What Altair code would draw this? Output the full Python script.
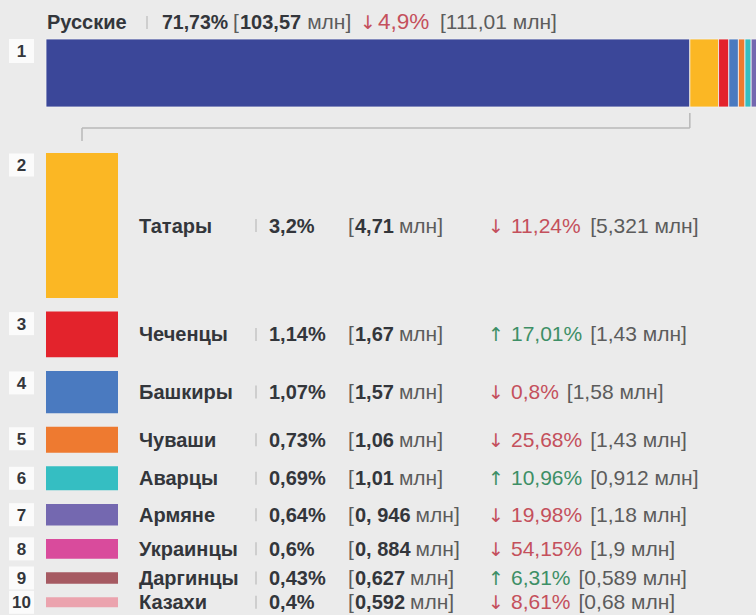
import altair as alt
import pandas as pd

# ---------------- data ----------------
names = ["Русские", "Татары", "Чеченцы", "Башкиры", "Чуваши", "Аварцы",
         "Армяне", "Украинцы", "Даргинцы", "Казахи"]
share_pct = [71.73, 3.2, 1.14, 1.07, 0.73, 0.69, 0.64, 0.6, 0.43, 0.4]
share_text = ["71,73%", "3,2%", "1,14%", "1,07%", "0,73%", "0,69%", "0,64%",
              "0,6%", "0,43%", "0,4%"]
pop_text = ["103,57", "4,71", "1,67", "1,57", "1,06", "1,01", "0, 946",
            "0, 884", "0,627", "0,592"]
change_pct = [-4.9, -11.24, 17.01, -0.8, -25.68, 10.96, -19.98, -54.15, 6.31, -8.61]
change_text = ["4,9%", "11,24%", "17,01%", "0,8%", "25,68%", "10,96%", "19,98%",
               "54,15%", "6,31%", "8,61%"]
prev_text = ["111,01", "5,321", "1,43", "1,58", "1,43", "0,912", "1,18", "1,9",
             "0,589", "0,68"]
colors = ["#3b4799", "#fbb724", "#e3232c", "#4a7ac0", "#ee7a30", "#35bec2",
          "#7468b0", "#d94b9c", "#a65a62", "#eba3ae"]

# ---------------- styles ----------------
BG = "#ebebeb"
TXT = "#33363b"
GRAY = "#5c5c5c"
RED = "#c4505c"
GREEN = "#3d8f66"
SEP = "#c4c4c4"
SANS = "Liberation Sans, Arial, Helvetica, sans-serif"
ARROWS = "DejaVu Sans, sans-serif"

ADV = {**{d: 0.556 for d in "0123456789"}, ",": 0.278, " ": 0.278, "%": 0.889}


def text_w(s, size):
    return sum(ADV.get(c, 0.556) for c in s) * size


df = pd.DataFrame({
    "name": names, "share": share_pct, "share_t": share_text, "pop": pop_text,
    "chg": change_pct, "chg_t": change_text, "prev": prev_text, "color": colors,
})
df["rank"] = [str(i) for i in range(1, len(df) + 1)]
df["arrow"] = ["↑" if c > 0 else "↓" for c in df["chg"]]
df["chg_color"] = [GREEN if c > 0 else RED for c in df["chg"]]
df["prev_t"] = "[" + df["prev"] + " млн]"
df["open"] = "["
df["mln"] = "млн]"
df["cum1"] = df["share"].cumsum()
df["cum0"] = df["cum1"] - df["share"]

# top row layout
top = df.iloc[[0]].copy()
top["base"] = 29.0
top["sep0"] = 16.0
top["sep1"] = 29.0
top["box0"] = 39.0
top["box1"] = 63.0
top["num_base"] = 57.0
top["mln_x"] = 240 + top["pop"].map(lambda s: text_w(s, 20)) + 6

# lower rows: bar height grows linearly with share
def bar_h(s):
    return 10 + (s - 0.4) * 135 / 2.8

low = df.iloc[1:].copy()
tops, t = [], 153.0
for s in low["share"]:
    tops.append(t)
    t += bar_h(s) + 13.6
low["y0"] = tops
low["y1"] = low["y0"] + low["share"].map(bar_h)
low["yc"] = (low["y0"] + low["y1"]) / 2
low["base"] = low["yc"] + 7
low["sep0"] = low["yc"] - 6.5
low["sep1"] = low["yc"] + 6.5
low["box_c"] = [min(a + 12, c) for a, c in zip(low["y0"], low["yc"])]
low["box0"] = low["box_c"] - 11.5
low["box1"] = low["box_c"] + 11.5
low["num_base"] = low["box_c"] + 6
low["mln_x"] = 355 + low["pop"].map(lambda s: text_w(s, 20)) + 5
low["prev_x"] = 511 + low["chg_t"].map(lambda s: text_w(s, 21)) + 8


def txt(data, field, x, size, weight, color, font, y="base", align="left"):
    xenc = alt.value(x) if isinstance(x, (int, float)) else alt.X(f"{x}:Q", scale=None)
    cenc = alt.value(color) if color.startswith("#") else alt.Color(f"{color}:N", scale=None)
    return alt.Chart(data).mark_text(
        align=align, baseline="alphabetic", font=font, fontSize=size, fontWeight=weight
    ).encode(x=xenc, y=alt.Y(f"{y}:Q", scale=None), text=f"{field}:N", color=cenc)


xscale = alt.Scale(domain=[0, 79.1], range=[46, 756])

top_bar = alt.Chart(df).mark_rect(clip=True, stroke="#f3f3f3", strokeWidth=0.8).encode(
    x=alt.X("cum0:Q", scale=xscale, axis=None),
    x2="cum1:Q",
    y=alt.value(39), y2=alt.value(107),
    color=alt.Color("color:N", scale=None),
)

rus = df.iloc[[0]]
br_h = alt.Chart(rus).mark_rule(color="#b8b8b8", strokeWidth=1.5).encode(
    x=alt.X("share:Q", scale=xscale, axis=None), x2=alt.value(82), y=alt.value(128))
br_r = alt.Chart(rus).mark_rule(color="#b8b8b8", strokeWidth=1.5).encode(
    x=alt.X("share:Q", scale=xscale, axis=None), y=alt.value(113), y2=alt.value(128))
br_l = alt.Chart(rus).mark_rule(color="#b8b8b8", strokeWidth=1.5).encode(
    x=alt.value(82), y=alt.value(128), y2=alt.value(141))

low_bars = alt.Chart(low).mark_rect().encode(
    x=alt.value(46), x2=alt.value(118),
    y=alt.Y("y0:Q", scale=None), y2="y1:Q",
    color=alt.Color("color:N", scale=None),
)

boxes_data = pd.concat([top, low])
boxes = alt.Chart(boxes_data).mark_rect(color="#fbfbfb").encode(
    x=alt.value(9), x2=alt.value(34),
    y=alt.Y("box0:Q", scale=None), y2="box1:Q",
)
box_nums = txt(boxes_data, "rank", 21.5, 17, "bold", TXT, SANS, y="num_base", align="center")

seps_top = alt.Chart(top).mark_rule(color=SEP, strokeWidth=1.5).encode(
    x=alt.value(147), y=alt.Y("sep0:Q", scale=None), y2="sep1:Q")
seps_low = alt.Chart(low).mark_rule(color=SEP, strokeWidth=1.5).encode(
    x=alt.value(256), y=alt.Y("sep0:Q", scale=None), y2="sep1:Q")

layers = [
    top_bar, br_h, br_r, br_l, low_bars, boxes, box_nums, seps_top, seps_low,
    # top row text
    txt(top, "name", 47, 20, "bold", TXT, SANS),
    txt(top, "share_t", 162, 19.5, "bold", TXT, SANS),
    txt(top, "open", 233, 21, "normal", GRAY, SANS),
    txt(top, "pop", 240, 20, "bold", TXT, SANS),
    txt(top, "mln", "mln_x", 21, "normal", GRAY, SANS),
    txt(top, "arrow", 360, 19, "normal", "chg_color", ARROWS),
    txt(top, "chg_t", 378, 22.5, "normal", "chg_color", SANS),
    txt(top, "prev_t", 440, 21, "normal", GRAY, SANS),
    # lower rows text
    txt(low, "name", 139, 20, "bold", TXT, SANS),
    txt(low, "share_t", 269, 20, "bold", TXT, SANS),
    txt(low, "open", 348, 21, "normal", GRAY, SANS),
    txt(low, "pop", 355, 20, "bold", TXT, SANS),
    txt(low, "mln", "mln_x", 21, "normal", GRAY, SANS),
    txt(low, "arrow", 488, 19, "normal", "chg_color", ARROWS),
    txt(low, "chg_t", 511, 21, "normal", "chg_color", SANS),
    txt(low, "prev_t", "prev_x", 21, "normal", GRAY, SANS),
]

chart = alt.layer(*layers).resolve_scale(
    x="independent", y="independent", color="independent"
).properties(
    width=756, height=615, padding=0, autosize=alt.AutoSizeParams(type="none"),
    background=BG,
).configure_view(strokeWidth=0)

chart.save("out.html", embed_options={"renderer": "svg", "actions": False})
